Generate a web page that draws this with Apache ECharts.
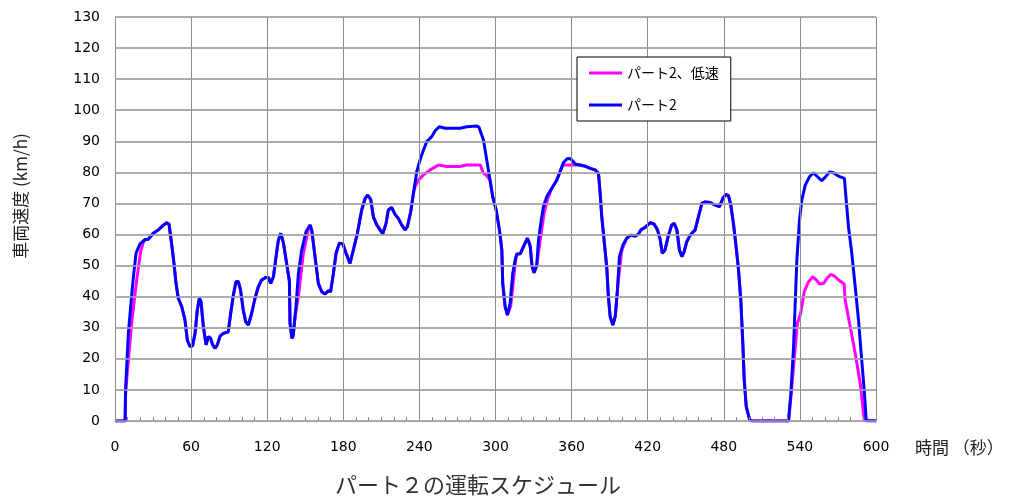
<!DOCTYPE html>
<html>
<head>
<meta charset="utf-8">
<script src="https://cdn.jsdelivr.net/npm/echarts@6/dist/echarts.min.js"></script>
<style>
html,body{margin:0;padding:0;background:#fff;}
#c{width:1012px;height:498px;}
</style>
</head>
<body>
<div id="c"></div>
<script>
// ---- data (time in s, speed in km/h) ----
var seriesNames = ['パート2、低速', 'パート2'];
var xTicks = [0, 60, 120, 180, 240, 300, 360, 420, 480, 540, 600];
var yTicks = [0, 10, 20, 30, 40, 50, 60, 70, 80, 90, 100, 110, 120, 130];
var minorTickTimes = [10,20,30,40,50,70,80,90,100,110,130,140,150,160,170,190,200,210,220,230,250,260,270,280,290,310,320,330,340,350,370,380,390,400,410,430,440,450,460,470,490,500,510,520,530,550,560,570,580,590];

var blueT = [0,8,8.3,10.5,12.4,14.4,16.6,19.7,23.7,26.3,30.2,34.2,38.1,40.8,42.6,44.6,46.5,48.1,49.9,52.6,55.2,57,59.1,61.2,63.1,64.9,66.5,67.8,69.7,71.8,73.6,75.4,77,78.9,80.7,82.8,85.4,89.3,91.2,93.3,95.4,97.2,99,101.1,103,105.1,107.7,110.4,113,115.6,118.8,120.9,122.8,124.9,127,128.8,130.7,132.7,134.9,137.5,138,139.5,140.5,142.7,144.6,147.2,150.6,153.8,155.1,157.7,160.3,163,165.6,168.2,170,172.2,174.3,176.9,179.6,182.2,185.3,187.9,191.1,194.5,197.2,199.2,201.6,203.7,206.4,209,211.1,213.7,215.5,218.1,220.8,223.4,226,228.7,230.5,233.2,235.3,237.9,240.5,243.2,245.8,249.7,252.4,255.8,260.3,272.1,277.4,285.3,287,290.5,293.1,295.7,297.8,300.5,303.1,305,305.7,307.6,309.4,311.5,313.6,315.5,316.8,319.5,322.6,325.2,327.3,328.9,330.4,332.5,333.9,335.7,337.8,340.4,344.3,348.3,350.9,353.5,356.7,359.3,362.8,366.7,370.7,374.6,378.5,381.2,382.5,383.8,385.6,387.7,389,390.4,392.5,394.4,396.1,397.7,400.4,403.5,406.6,410,412.7,414.6,418,421.9,425,427.7,429.8,431.5,433.6,436.4,439,440.9,443,445,446.9,448.7,450.8,453.5,457.4,460,462.7,465.3,469.2,473.2,476.6,479.2,481.6,483.7,485.5,487.6,489.7,491.6,493.4,495,496.1,497.7,500.3,502,531,532.9,535,536.3,537.6,539.7,541.5,544.2,547.6,550.7,553.9,557.2,559.8,563.3,566.4,570.3,575.1,576.5,578.3,580.9,583.6,586.2,588.3,590.7,592.3,600];
var blueV = [0,0,10,28,37,46,54,57,58.4,58.5,60.4,61.5,63,63.8,63.3,57.2,50.7,44.3,39.5,36.8,32.5,26,24,24.2,28.2,35.7,39.5,38.4,30.3,24.5,27.1,26.6,24.5,23.4,24.5,27.3,28.2,28.7,34.6,40.5,44.8,44.9,42.1,35.7,32,30.9,34.6,39.5,43.2,45.4,46.2,46.2,44.3,46.4,52.9,58.2,60.4,57.5,51.8,45,31.4,26.6,27.5,36.8,47.5,55,60.9,63.1,61.5,52.9,44.3,41.6,40.9,41.9,41.6,47.5,54,57.2,57,54,50.7,55,60.4,67.9,71.6,72.7,71.3,65.7,63.1,61.5,60.2,63.6,67.9,68.7,66.5,65.2,63.1,61.5,62.5,67.4,73.3,80.2,84,87.2,89.9,91.5,93.4,94.7,94.2,94.2,94.7,94.9,94.5,90.4,84,77.5,72.2,67.9,61.5,55,44.3,36.8,34.1,37.9,47.5,51.8,53.7,53.8,56.6,58.8,56.4,49.6,47.7,50.1,58.2,63.6,69,72.2,74.8,77.5,80.2,83.1,84.5,84.4,82.7,82.4,82,81.3,80.8,79.7,73.3,65.7,58.2,49.6,40,33.6,30.9,33.6,42.1,52.9,56.6,58.8,59.8,59.5,60.1,61.5,62.3,63.8,63.4,61.5,58.5,54,55,59.8,63.1,63.6,61.5,55,52.9,54.4,57.7,59.8,61.5,65.7,70,70.5,70.3,69.5,69,71.6,72.9,72.5,69.5,63.6,56.1,48.6,38.9,25,13.2,4.6,0.5,0,0,8.9,23.9,37.9,51.8,64.7,71.1,75.9,78.6,79.9,78.6,77.3,78.4,80.1,79.9,78.8,78.1,71.1,62.5,54,43.2,32.5,21.8,10,0,0];

var pinkT = [0,8,8.3,9.2,13.1,17.1,20.2,22.3,23.7,26.3,30.2,34.2,38.1,40.8,42.6,44.6,46.5,48.1,49.9,52.6,55.2,57,59.1,61.2,63.1,64.9,66.5,67.8,69.7,71.8,73.6,75.4,77,78.9,80.7,82.8,85.4,89.3,91.2,93.3,95.4,97.2,99,101.1,103,105.1,107.7,110.4,113,115.6,118.8,120.9,122.8,124.9,127,128.8,130.7,132.7,134.9,137.5,138,139.5,140.5,142,144.6,148.5,152.4,153.8,155.1,157.7,160.3,163,165.6,168.2,170,172.2,174.3,176.9,179.6,182.2,185.3,187.9,191.1,194.5,197.2,199.2,201.6,203.7,206.4,209,211.1,213.7,215.5,218.1,220.8,223.4,226,228.7,230.5,233.2,235.3,236.6,239.2,243.2,248.5,255,261.6,272.1,277,288,290.5,293,295.7,297.8,300.5,303.1,305,305.7,307.6,309.4,312,314.2,315.8,316.8,319.5,322.6,325.2,327.3,328.9,330.4,332.5,335.3,338.3,341.3,344.3,348.3,350.9,353,366.7,370.7,374.6,378.5,381.2,382.5,383.8,385.6,387.7,389,390.4,392.5,394.4,396.9,399.6,403.5,406.6,410,412.7,414.6,418,421.9,425,427.7,429.8,431.5,433.6,436.4,439,440.9,443,445,446.9,448.7,450.8,453.5,457.4,460,462.7,465.3,469.2,473.2,476.6,479.2,481.6,483.7,485.5,487.6,489.7,491.6,493.4,495,496.1,497.7,500.3,502,531,533,535,538,540.6,543.4,546.8,550.2,552.9,555.5,558.7,561.3,564.4,567,570.5,574.9,575.7,579.7,583.6,587.6,590.7,600];
var pinkV = [0,0,8,13.2,31.4,45.4,54.5,57.4,58.4,58.5,60.4,61.5,63,63.8,63.3,57.2,50.7,44.3,39.5,36.8,32.5,26,24,24.2,28.2,35.7,39.5,38.4,30.3,24.5,27.1,26.6,24.5,23.4,24.5,27.3,28.2,28.7,34.6,40.5,44.8,44.9,42.1,35.7,32,30.9,34.6,39.5,43.2,45.4,46.2,46.2,44.3,46.4,52.9,58.2,60.4,57.5,51.8,45,31.4,26.6,27.5,33.6,40,54,61.5,63.1,61.5,52.9,44.3,41.6,40.9,41.9,41.6,47.5,54,57.2,57,54,50.7,55,60.4,67.9,71.6,72.7,71.3,65.7,63.1,61.5,60.2,63.6,67.9,68.7,66.5,65.2,63.1,61.5,62.5,67.4,73.3,75.4,77.5,79.2,80.8,82.4,81.9,81.9,82.4,82.4,79.7,79,77.5,72.2,67.9,61.5,55,44.3,36.8,34.1,37,45.4,51.5,53.7,53.8,56.6,58.8,56.4,49.6,47.7,50.1,58.2,66.8,71.7,74.8,77.5,80.2,82.4,82.4,82,81.3,80.8,79.7,73.3,65.7,58.2,49.6,40,33.6,30.9,33.6,45.4,55,58.8,59.8,59.5,60.1,61.5,62.3,63.8,63.4,61.5,58.5,54,55,59.8,63.1,63.6,61.5,55,52.9,54.4,57.7,59.8,61.5,65.7,70,70.5,70.3,69.5,69,71.6,72.9,72.5,69.5,63.6,56.1,48.6,38.9,25,13.2,4.6,0.5,0,0,8,17.5,31.4,34.6,41.6,44.8,46.4,45.4,44.1,44.3,45.9,47.2,46.7,45.4,44.1,38.9,30.3,21.8,12.1,0.3,0];

function zip(t, v) { var out = []; for (var i = 0; i < t.length; i++) out.push([t[i], v[i]]); return out; }

var vGridColor = '#8c8c8c', hGridColor = '#a8a8a8';
var tickLen = 1.3; // speed units, ~4 px
var gridLines = [];
xTicks.forEach(function (t) { gridLines.push({xAxis: t, lineStyle: {color: vGridColor, width: 1, type: 'solid'}}); });
yTicks.forEach(function (v) { gridLines.push({yAxis: v, lineStyle: {color: hGridColor, width: 1.5, type: 'solid'}}); });
minorTickTimes.forEach(function (t) { gridLines.push([{coord: [t, 0]}, {coord: [t, tickLen], lineStyle: {color: vGridColor, width: 1, type: 'solid'}}]); });

var chart = echarts.init(document.getElementById('c'));
var numFont = 'DejaVu Sans';
var jpFont = 'Noto Sans CJK JP';

chart.setOption({
  animation: false,
  grid: {left: 115, right: 136, top: 17, bottom: 77},
  legend: {
    orient: 'vertical',
    left: 577, top: 57, z: 20,
    backgroundColor: '#ffffff',
    borderColor: '#000000', borderWidth: 1,
    padding: [9, 12, 9, 12],
    itemGap: 18, itemWidth: 33, itemHeight: 3,
    icon: 'rect',
    textStyle: {fontFamily: jpFont, fontSize: 14, color: '#000', lineHeight: 14},
    data: seriesNames
  },
  xAxis: {
    type: 'value', min: xTicks[0], max: xTicks[xTicks.length - 1], interval: 60,
    axisLine: {show: true, lineStyle: {color: vGridColor, width: 1}},
    axisTick: {show: false},
    splitLine: {show: true, lineStyle: {color: vGridColor, width: 1}},
    axisLabel: {fontFamily: numFont, fontSize: 14, color: '#000', margin: 19}
  },
  yAxis: {
    type: 'value', min: yTicks[0], max: yTicks[yTicks.length - 1], interval: 10,
    axisLine: {show: true, lineStyle: {color: vGridColor, width: 1}},
    axisTick: {show: false},
    splitLine: {show: true, lineStyle: {color: hGridColor, width: 1.5}},
    axisLabel: {fontFamily: numFont, fontSize: 14, color: '#000', margin: 15}
  },
  graphic: [
    {type: 'text', x: 21, y: 196, rotation: Math.PI / 2,
     style: {text: '車両速度 (km/h)', font: '17px "Noto Sans CJK JP"', fill: '#222', textAlign: 'center', textVerticalAlign: 'middle'}},
    {type: 'text', x: 915, y: 448,
     style: {text: '時間 （秒）', font: '17px "Noto Sans CJK JP"', fill: '#222', textAlign: 'left', textVerticalAlign: 'middle'}},
    {type: 'text', x: 478, y: 485,
     style: {text: 'パート２の運転スケジュール', font: '22px "Noto Sans CJK JP"', fill: '#333', textAlign: 'center', textVerticalAlign: 'middle'}}
  ],
  series: [
    {name: seriesNames[0], type: 'line', data: zip(pinkT, pinkV), symbol: 'none', showSymbol: false,
     lineStyle: {color: '#ff00ff', width: 3}, itemStyle: {color: '#ff00ff'},
     markLine: {silent: true, z: 10, symbol: ['none', 'none'], label: {show: false},
       lineStyle: {type: 'solid', color: vGridColor, width: 1}, emphasis: {disabled: true},
       data: gridLines}},
    {name: seriesNames[1], type: 'line', data: zip(blueT, blueV), symbol: 'none', showSymbol: false,
     lineStyle: {color: '#0000ff', width: 3}, itemStyle: {color: '#0000ff'}}
  ]
});
</script>
</body>
</html>
